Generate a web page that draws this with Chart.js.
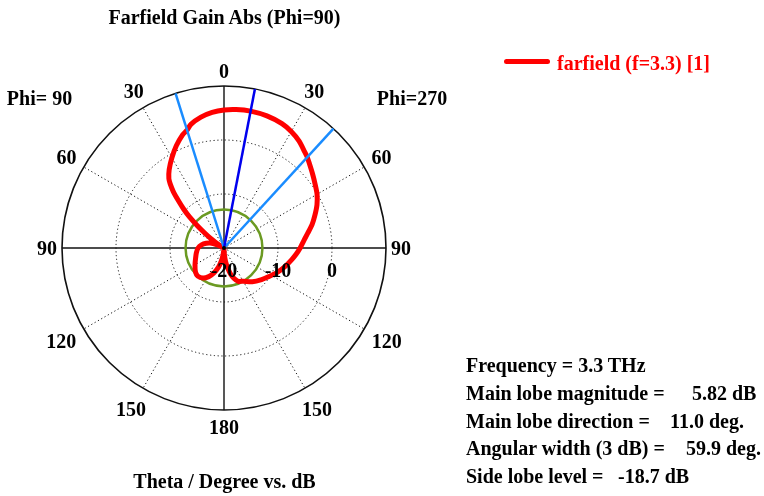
<!DOCTYPE html>
<html>
<head>
<meta charset="utf-8">
<script src="https://cdn.jsdelivr.net/npm/chart.js@4.4.1/dist/chart.umd.min.js"></script>
<style>
  html, body { margin: 0; padding: 0; background: #fff; }
  #wrap { position: relative; width: 764px; height: 496px; overflow: hidden;
          font: bold 20px "Liberation Serif", "Times New Roman", serif; color: #000; }
  #wrap canvas { position: absolute; left: 0; top: 0; }
  .t { position: absolute; white-space: pre; line-height: 20px; transform: translateY(-50%); }
  .c { transform: translate(-50%, -50%); }
  .legend-line { position: absolute; left: 504px; top: 58.5px; width: 46px; height: 5px;
                 background: #ff0000; border-radius: 2.5px; }
</style>
</head>
<body>
<div id="wrap">
  <canvas id="c" width="764" height="496"></canvas>

  <div class="t c" style="left:224.5px; top:17px;">Farfield Gain Abs (Phi=90)</div>
  <div class="t c" style="left:39.5px; top:97.5px;">Phi= 90</div>
  <div class="t c" style="left:412px; top:97.5px;">Phi=270</div>
  <div class="t c" style="left:224.5px; top:481px;">Theta / Degree vs. dB</div>

  <div class="legend-line"></div>
  <div class="t" style="left:557px; top:63px; color:#ff0000;">farfield (f=3.3) [1]</div>

  <div class="t" style="left:466px; top:365px;">Frequency = 3.3 THz</div>
  <div class="t" style="left:466px; top:392.5px;">Main lobe magnitude =</div>
  <div class="t" style="left:692px; top:392.5px;">5.82 dB</div>
  <div class="t" style="left:466px; top:420.5px;">Main lobe direction =</div>
  <div class="t" style="left:670px; top:420.5px;">11.0 deg.</div>
  <div class="t" style="left:466px; top:448px;">Angular width (3 dB) =</div>
  <div class="t" style="left:686px; top:448px;">59.9 deg.</div>
  <div class="t" style="left:466px; top:476px;">Side lobe level =</div>
  <div class="t" style="left:618px; top:476px;">-18.7 dB</div>
</div>

<script>
// Farfield gain cut at Phi=90: theta measured clockwise from the top,
// positive values on the Phi=270 side, negative values on the Phi=90 side.
const thetaDeg = [
  0, 5, 11, 18, 25, 30, 35, 40, 42.5, 45, 50, 55, 60, 65, 70, 75, 80, 85, 90,
  95, 100, 107, 115, 123, 130, 140, 150, 157, 162, 166, 169, 172, 175, 178, 180,
  -176, -172, -168, -164, -158, -152, -145, -137, -130, -120, -110, -100, -90,
  -82, -75, -70, -66, -62, -60, -58, -56, -54, -52, -50, -48, -46, -44, -42,
  -40, -38.5, -35, -30, -25, -20, -17.5, -15, -10, -5
];
const gainDb = [
  5.56, 5.74, 5.82, 5.72, 5.40, 4.90, 4.20, 3.25, 2.82, 2.30, 1.40, 0.60, -0.10, -1.00, -2.07, -3.10, -4.25, -5.20, -5.90,
  -6.60, -7.30, -8.20, -9.20, -10.20, -10.90, -11.85, -12.90, -13.30, -14.10, -15.10, -16.10, -17.00, -18.10, -19.20, -19.70,
  -19.60, -18.60, -17.40, -16.30, -15.00, -14.00, -13.20, -12.88, -13.10, -13.80, -14.40, -14.80, -15.20,
  -15.80, -16.60, -17.30, -18.50, -19.80, -19.50, -18.90, -18.00, -16.80, -15.40, -13.50, -11.40, -9.60, -7.90, -6.00,
  -4.50, -3.60, -2.30, -0.70, 0.90, 2.35, 2.85, 3.70, 4.60, 5.20
];

// Summary figures of the cut
const mainLobeDb = 5.82;
const mainLobeDir = 11.0;
const sideLobeRelDb = -18.7;
const halfPowerDirs = [-17.4, 42.5];

// Axis labels
const angleTicks = [0, 30, 60, 90, 120, 150, 180, -150, -120, -90, -60, -30];
const radialTicks = [-20, -10, 0];
const radialMin = -20, radialMax = 10, radialStep = 10;

// Half-degree angular grid for the radar scale
const STEPS_PER_DEG = 2;
const angleGrid = Array.from({ length: 360 * STEPS_PER_DEG }, (_, i) => i / STEPS_PER_DEG);
const idxOf = th => (((th % 360) + 360) % 360) * STEPS_PER_DEG;

const curve = new Array(angleGrid.length).fill(null);
thetaDeg.forEach((th, k) => { curve[Math.round(idxOf(th))] = gainDb[k]; });

const FONT = 'bold 20px "Liberation Serif", "Times New Roman", serif';
const CAP_H = 13.2;

const polarDecor = {
  id: 'polarDecor',
  beforeDatasetsDraw(chart) {
    const r = chart.scales.r, ctx = chart.ctx;
    // side lobe level ring
    ctx.save();
    ctx.strokeStyle = '#6b9a22';
    ctx.lineWidth = 2.5;
    ctx.beginPath();
    ctx.arc(r.xCenter, r.yCenter, r.getDistanceFromCenterForValue(mainLobeDb + sideLobeRelDb), 0, Math.PI * 2);
    ctx.stroke();
    ctx.restore();
  },
  afterDatasetsDraw(chart) {
    const r = chart.scales.r, ctx = chart.ctx;
    const outer = r.getDistanceFromCenterForValue(r.max);
    ctx.save();
    ctx.lineWidth = 2.5;
    // half power beam edges
    ctx.strokeStyle = '#1a8cff';
    halfPowerDirs.forEach(th => {
      const p = r.getPointPosition(idxOf(th), outer);
      ctx.beginPath(); ctx.moveTo(r.xCenter, r.yCenter); ctx.lineTo(p.x, p.y); ctx.stroke();
    });
    // main lobe direction
    ctx.strokeStyle = '#0000ee';
    const pm = r.getPointPosition(idxOf(mainLobeDir), outer);
    ctx.beginPath(); ctx.moveTo(r.xCenter, r.yCenter); ctx.lineTo(pm.x, pm.y); ctx.stroke();
    // origin marker
    ctx.fillStyle = '#000';
    ctx.beginPath(); ctx.arc(r.xCenter, r.yCenter, 2, 0, Math.PI * 2); ctx.fill();

    ctx.font = FONT;
    ctx.fillStyle = '#000';
    ctx.textAlign = 'center';
    ctx.textBaseline = 'alphabetic';
    // radial tick labels along the right horizontal axis
    radialTicks.forEach(v => {
      const x = r.xCenter + r.getDistanceFromCenterForValue(v);
      ctx.fillText(String(v), x, r.yCenter + 22 + CAP_H / 2);
    });
    // theta labels around the rim
    angleTicks.forEach(th => {
      const txt = String(Math.abs(th));
      const a = th * Math.PI / 180;
      const hw = ctx.measureText(txt).width / 2;
      const s = Math.abs(Math.sin(a)), c = Math.cos(a);
      let pad = 8 + 3 * Math.max(0, -c);
      if (Math.abs(c) < 0.01) pad -= 3;
      const d = outer + pad + hw * s + (CAP_H / 2) * Math.abs(c);
      const p = r.getPointPosition(idxOf(th), d);
      ctx.fillText(txt, p.x, p.y + CAP_H / 2);
    });
    ctx.restore();
  }
};

const isAxis = i => i % (90 * STEPS_PER_DEG) === 0;
const isSpoke = i => i % (30 * STEPS_PER_DEG) === 0;
const DOTS = [1.2, 2.6];

new Chart(document.getElementById('c'), {
  type: 'radar',
  data: {
    labels: angleGrid,
    datasets: [{
      label: 'farfield (f=3.3) [1]',
      data: curve,
      borderColor: '#ff0000',
      borderWidth: 5,
      borderJoinStyle: 'round',
      borderCapStyle: 'round',
      fill: false,
      pointRadius: 0,
      pointHoverRadius: 0,
      pointHitRadius: 0,
      spanGaps: true,
      tension: 0.25
    }]
  },
  options: {
    responsive: false,
    animation: false,
    devicePixelRatio: 1,
    events: [],
    layout: { padding: { left: 62, top: 86, right: 378, bottom: 86 } },
    plugins: {
      legend: { display: false },
      title: { display: false },
      tooltip: { enabled: false }
    },
    scales: {
      r: {
        min: radialMin,
        max: radialMax,
        startAngle: 0,
        ticks: { display: false, stepSize: radialStep },
        pointLabels: { display: false },
        grid: {
          circular: true,
          color: ctx => ctx.index === 0 ? 'rgba(0,0,0,0)' : '#111',
          lineWidth: ctx => ctx.index === 0 ? 0 : (ctx.tick && ctx.tick.value === radialMax ? 1.6 : 1)
        },
        border: {
          dash: ctx => (ctx.tick && ctx.tick.value === radialMax) ? [] : DOTS
        },
        angleLines: {
          display: true,
          color: ctx => isSpoke(ctx.index) ? '#111' : 'rgba(0,0,0,0)',
          lineWidth: ctx => isSpoke(ctx.index) ? (isAxis(ctx.index) ? 1.4 : 1) : 0,
          borderDash: ctx => isAxis(ctx.index) ? [] : DOTS
        }
      }
    }
  },
  plugins: [polarDecor]
});
</script>
</body>
</html>
